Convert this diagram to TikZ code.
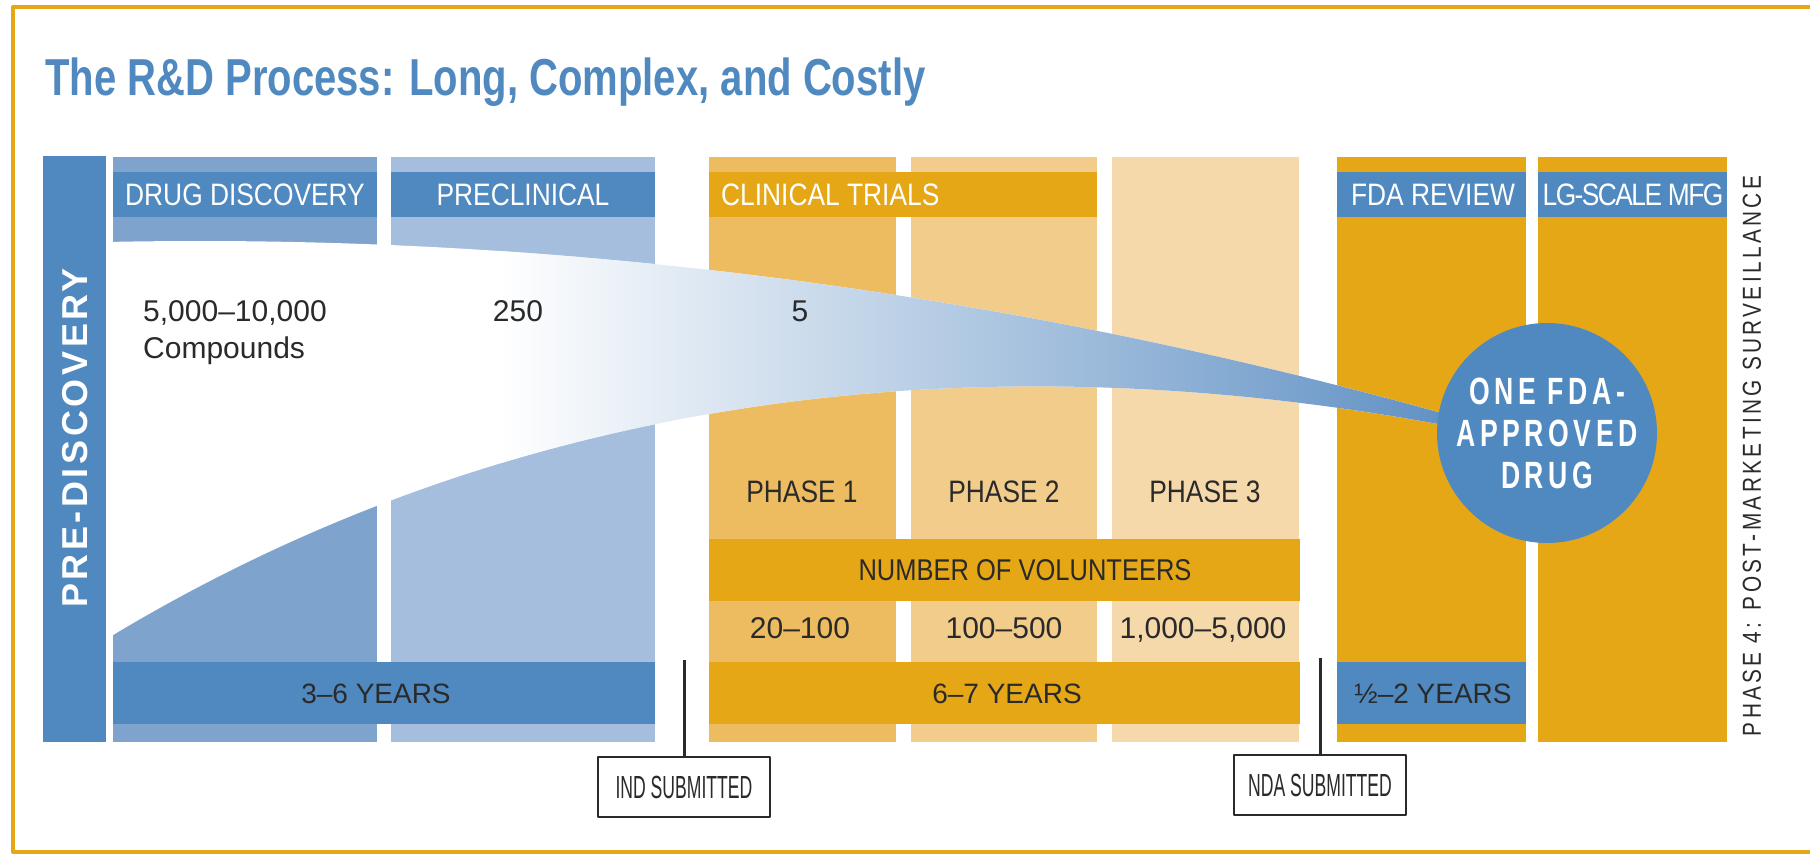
\documentclass[tikz,border=0pt]{standalone}
\usepackage{fontspec}
\setmainfont{Liberation Sans}
\newfontfamily\narrowfont[FakeStretch=0.85]{Liberation Sans}
\newfontfamily\condfont[FakeStretch=0.55]{Liberation Sans}
\newfontfamily\titlefont[FakeStretch=0.77]{Liberation Sans}
\newfontfamily\widefont[LetterSpace=10]{Liberation Sans}
\newfontfamily\sidefont[FakeStretch=0.8,LetterSpace=13]{Liberation Sans}
\newfontfamily\drugfont[FakeStretch=0.7,LetterSpace=12]{Liberation Sans}
\definecolor{rdblue}{HTML}{4F89BF}
\definecolor{ddblue}{HTML}{7EA4CD}
\definecolor{preblue}{HTML}{A5BEDD}
\definecolor{rdorange}{HTML}{E6A717}
\definecolor{phA}{HTML}{EDBC60}
\definecolor{phB}{HTML}{F2CC8A}
\definecolor{phC}{HTML}{F5D9AA}
\definecolor{funnelblue}{HTML}{6292C5}
\definecolor{ink}{HTML}{2A2A2A}
\begin{document}
\begin{tikzpicture}[x=1pt,y=-1pt,line join=round,inner sep=0pt,
 hd/.style={anchor=base,text=white,font=\narrowfont\fontsize{31}{36}\selectfont},
 lbl/.style={anchor=base,text=ink,font=\narrowfont\fontsize{31}{36}\selectfont},
 num/.style={anchor=base,text=ink,font=\fontsize{30}{36}\selectfont},
 yrs/.style={anchor=base,text=ink,font=\fontsize{28}{34}\selectfont},
 sub/.style={draw=ink,line width=2pt,fill=white,minimum width=172pt,minimum height=60pt,text=ink,font=\condfont\fontsize{32}{36}\selectfont}]
\useasboundingbox (0,0) rectangle (1810,854);
\def\ctop{157} \def\cbot{742}
\def\htop{172} \def\hbot{217}
\def\ytop{662} \def\ybot{724}
% frame and title
\draw[rdorange,line width=4pt] (1810,7)--(13,7)--(13,852)--(1810,852);
\node[anchor=base west,text=rdblue,font=\titlefont\bfseries\fontsize{52}{60}\selectfont] (title) at (45,95) {The R\&D Process: Long, Complex, and Costly};
% columns
\foreach \xa/\xb/\col in {113/377/ddblue,391/655/preblue,709/896/phA,911/1097/phB,1112/1299/phC,1337/1526/rdorange,1538/1727/rdorange}
  \fill[\col] (\xa,\ctop) rectangle (\xb,\cbot);
\fill[rdblue] (43,156) rectangle (106,\cbot);
% funnel
\begin{scope}
\clip (113,242) -- plot[domain=113:1480,samples=60] (\x,{241+1.116*((\x-200)/100)^2})
  -- (1480,432) .. controls (980,332) and (513,395) .. (113,635) -- cycle;
\fill[white] (100,230) rectangle (1500,650);
\shade[left color=white,right color=funnelblue] (500,230) rectangle (1440,650);
\fill[funnelblue] (1440,230) rectangle (1500,650);
\end{scope}
% bands
\foreach \xa/\xb/\col in {113/377/rdblue,391/655/rdblue,709/1097/rdorange,1337/1526/rdblue,1538/1727/rdblue}
  \fill[\col] (\xa,\htop) rectangle (\xb,\hbot);
\foreach \xa/\xb/\col in {113/655/rdblue,709/1300/rdorange,1337/1526/rdblue}
  \fill[\col] (\xa,\ytop) rectangle (\xb,\ybot);
\fill[rdorange] (709,539) rectangle (1300,601);
% headers
\node[hd] (ddhead) at (245,205) {DRUG DISCOVERY};
\node[hd] (prehead) at (523,205) {PRECLINICAL};
\node[hd,anchor=base west] (cthead) at (721,205) {CLINICAL TRIALS};
\node[hd] (fdahead) at (1433,205) {FDA REVIEW};
\node[hd] (mfghead) at (1633,205) {\addfontfeature{LetterSpace=-5}LG-SCALE MFG};
% counts
\node[num,anchor=base west] (nstart) at (143,321) {5,000–10,000};
\node[num,anchor=base west] (ncomp) at (143,358) {Compounds};
\node[num] (npre) at (518,321) {250};
\node[num] (nclin) at (800,321) {5};
% phases
\foreach \n/\x in {1/802,2/1004,3/1205}
  \node[lbl] (ph\n) at (\x,502) {PHASE \n};
\node[lbl,font=\narrowfont\fontsize{30}{36}\selectfont] (vol) at (1025,580) {NUMBER OF VOLUNTEERS};
\node[num] (v1) at (800,638) {20–100};
\node[num] (v2) at (1004,638) {100–500};
\node[num] (v3) at (1203,638) {1,000–5,000};
% years
\node[yrs] (yr1) at (376,703) {3–6 YEARS};
\node[yrs] (yr2) at (1007,703) {6–7 YEARS};
\node[yrs] (yr3) at (1433,703) {½–2 YEARS};
% side labels
\node[rotate=90,text=white,font=\widefont\bfseries\fontsize{36}{40}\selectfont] (predisc) at (75,438) {PRE-DISCOVERY};
\node[rotate=90,text=ink,font=\sidefont\fontsize{26}{30}\selectfont] (phase4) at (1752,456) {PHASE 4: POST-MARKETING SURVEILLANCE};
% result
\node[circle,fill=rdblue,minimum size=220pt,text=white,align=center,font=\drugfont\bfseries\fontsize{38}{42}\selectfont] (drug) at (1547,433) {ONE FDA-\\APPROVED\\DRUG};
% submissions
\node[sub] (ind) at (684,787) {IND SUBMITTED};
\node[sub] (nda) at (1320,785) {NDA SUBMITTED};
\coordinate (indtop) at (684,660);
\coordinate (ndatop) at (1320,658);
\draw[ink,line width=3pt] (indtop) -- (ind.north) (ndatop) -- (nda.north);
\end{tikzpicture}
\end{document}
